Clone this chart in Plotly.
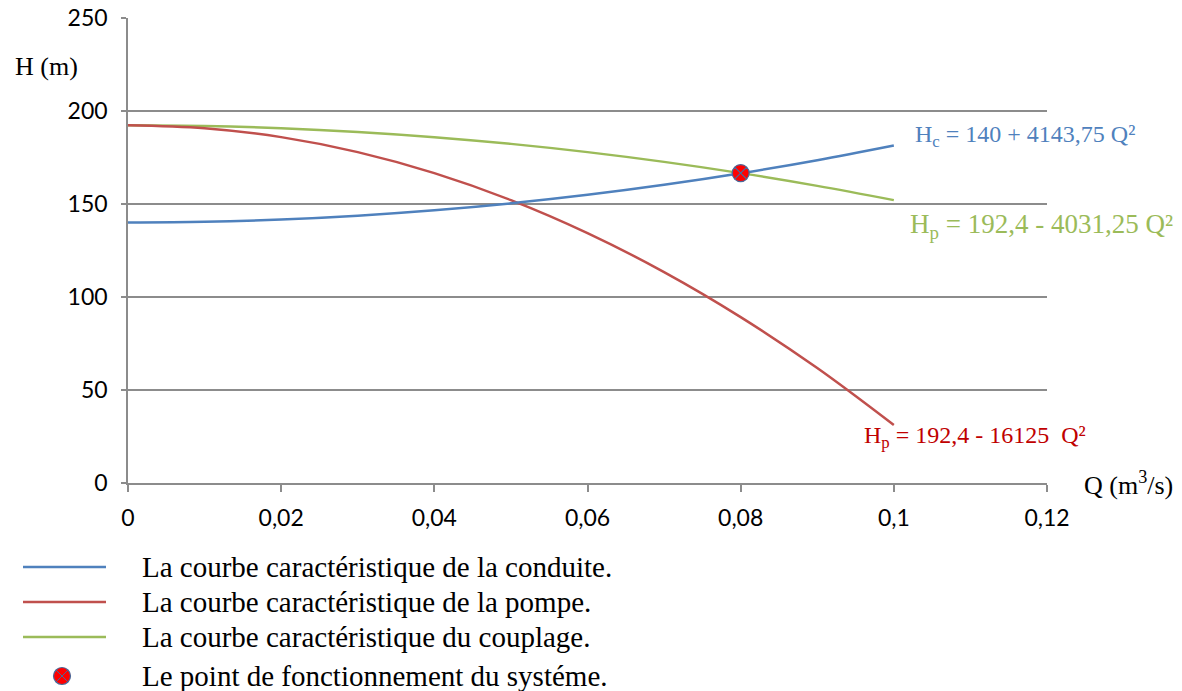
import plotly.graph_objects as go

# Débit Q (m3/s) et hauteurs H (m) des trois courbes caractéristiques
q = [0, 0.01, 0.02, 0.03, 0.04, 0.05, 0.06, 0.07, 0.08, 0.09, 0.10]
h_conduite = [140.00, 140.41, 141.66, 143.73, 146.63, 150.36, 154.92, 160.30, 166.52, 173.56, 181.44]
h_pompe = [192.40, 190.79, 185.95, 177.89, 166.60, 152.09, 134.35, 113.39, 89.20, 61.79, 31.15]
h_couplage = [192.40, 192.00, 190.79, 188.77, 185.95, 182.32, 177.89, 172.65, 166.60, 159.75, 152.09]

# Point de fonctionnement
q_fonct = [0.08]
h_fonct = [166.6]

x_ticks = [0, 0.02, 0.04, 0.06, 0.08, 0.10, 0.12]
y_ticks = [0, 50, 100, 150, 200, 250]

legend_labels = [
    "La courbe caractéristique de la conduite.",
    "La courbe caractéristique de la pompe.",
    "La courbe caractéristique du couplage.",
    "Le point de fonctionnement du systéme.",
]

BLUE = "#4F81BD"
RED = "#C0504D"
GREEN = "#9BBB59"
GRID = "#8C8C8C"
SERIF = "Liberation Serif"
SANS = "Lato"

fig = go.Figure()
fig.add_trace(go.Scatter(x=q, y=h_couplage, mode="lines", line=dict(color=GREEN, width=2.5, shape="spline")))
fig.add_trace(go.Scatter(x=q, y=h_pompe, mode="lines", line=dict(color=RED, width=2.5, shape="spline")))
fig.add_trace(go.Scatter(x=q, y=h_conduite, mode="lines", line=dict(color=BLUE, width=2.5, shape="spline")))
fig.add_trace(go.Scatter(
    x=q_fonct, y=h_fonct, mode="markers",
    marker=dict(symbol="circle-x", size=17, color="#FF0000", line=dict(color="#4A6A9A", width=1.2)),
))

# Étiquettes des équations
fig.add_annotation(x=0.1025, y=186.5, xref="x", yref="y", xanchor="left", yanchor="middle",
                   text="H<sub>c</sub> = 140 + 4143,75 Q²", showarrow=False,
                   font=dict(family=SERIF, size=24, color=BLUE))
fig.add_annotation(x=0.1018, y=138, xref="x", yref="y", xanchor="left", yanchor="middle",
                   text="H<sub>p</sub> = 192,4 - 4031,25 Q²", showarrow=False,
                   font=dict(family=SERIF, size=27, color=GREEN))
fig.add_annotation(x=0.0958, y=24.5, xref="x", yref="y", xanchor="left", yanchor="middle",
                   text="H<sub>p</sub> = 192,4 - 16125\u00a0 Q²", showarrow=False,
                   font=dict(family=SERIF, size=24, color="#C00000"))

# Titres des axes
fig.add_annotation(x=(13 - 128) / 919, y=(483 - 66) / 465, xref="paper", yref="paper", xanchor="left", yanchor="middle",
                   text="H (m)", showarrow=False, font=dict(family=SERIF, size=26, color="black"))
fig.add_annotation(x=(1082 - 128) / 919, y=0.0, xref="paper", yref="paper", xanchor="left", yanchor="middle",
                   text="Q (m<sup>3</sup>/s)", showarrow=False, font=dict(family=SERIF, size=26, color="black"))

# Légende sous le graphique
def px_x(p):
    return (p - 128) / 919


def px_y(p):
    return (483 - p) / 465


legend_rows = [567, 602, 637, 676]
for color, row in zip([BLUE, RED, GREEN], legend_rows[:3]):
    fig.add_shape(type="line", xref="paper", yref="paper",
                  x0=px_x(23), x1=px_x(106), y0=px_y(row), y1=px_y(row),
                  line=dict(color=color, width=2.5))
cx, cy, r = 62, legend_rows[3], 8.5
fig.add_shape(type="circle", xref="paper", yref="paper",
              x0=px_x(cx - r), x1=px_x(cx + r), y0=px_y(cy + r), y1=px_y(cy - r),
              fillcolor="#FF0000", line=dict(color="#4A6A9A", width=1.2))
d = r * 0.7
fig.add_shape(type="line", xref="paper", yref="paper",
              x0=px_x(cx - d), x1=px_x(cx + d), y0=px_y(cy - d), y1=px_y(cy + d),
              line=dict(color="#4A6A9A", width=1))
fig.add_shape(type="line", xref="paper", yref="paper",
              x0=px_x(cx - d), x1=px_x(cx + d), y0=px_y(cy + d), y1=px_y(cy - d),
              line=dict(color="#4A6A9A", width=1))
for label, row in zip(legend_labels, legend_rows):
    fig.add_annotation(x=px_x(140), y=px_y(row), xref="paper", yref="paper",
                       xanchor="left", yanchor="middle", text=label, showarrow=False,
                       font=dict(family=SERIF, size=29, color="black"))

fig.update_xaxes(
    range=[0, 0.12], tickvals=x_ticks, showgrid=False, zeroline=False, automargin=False,
    showline=True, linecolor=GRID, linewidth=1.5,
    ticks="outside", ticklen=7, tickcolor=GRID, tickwidth=1.5,
    ticklabelstandoff=7, tickfont=dict(family=SANS, size=23, color="black"),
)
fig.update_yaxes(
    range=[0, 250], tickvals=y_ticks, showgrid=True, gridcolor=GRID, gridwidth=1.5,
    zeroline=False, showline=True, linecolor=GRID, linewidth=1.5, automargin=False,
    ticks="outside", ticklen=5, tickcolor=GRID, tickwidth=1.5,
    ticklabelstandoff=9, tickfont=dict(family=SANS, size=23, color="black"),
)

fig.update_layout(
    width=1182, height=691,
    margin=dict(l=128, r=135, t=18, b=208),
    paper_bgcolor="white", plot_bgcolor="white",
    showlegend=False, separators=", ",
)

fig.write_html("out.html")
